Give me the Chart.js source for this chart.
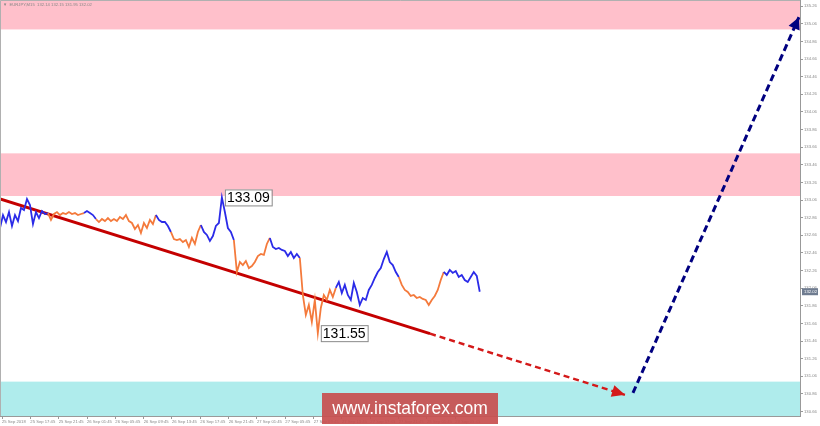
<!DOCTYPE html>
<html><head><meta charset="utf-8">
<script src="https://cdn.jsdelivr.net/npm/chart.js@4.4.1/dist/chart.umd.min.js"></script>
<style>html,body{margin:0;padding:0;background:#fff;overflow:hidden}canvas{display:block}</style>
</head><body>
<canvas id="c" width="820" height="426"></canvas>
<script>
// ---- data ----
const symbolTitle = "EURJPY,M15  132.14 132.15 131.95 132.02";
const tickLabels = ["25 Sep 2018","25 Sep 17:45","25 Sep 21:45","26 Sep 01:45","26 Sep 05:45","26 Sep 09:45","26 Sep 13:45","26 Sep 17:45","26 Sep 21:45","27 Sep 01:45","27 Sep 05:45","27 Sep 09:45","27 Sep 13:45","27 Sep 17:45","27 Sep 21:45","28 Sep 01:45","28 Sep 05:45"];
const tickMinutes = [0,240,480,720,960,1200,1440,1680,1920,2160,2400,2640,2880,3120,3360,3600,3840];
const priceTicks = [130.66,130.86,131.06,131.26,131.46,131.66,131.86,132.06,132.26,132.46,132.66,132.86,133.06,133.26,133.46,133.66,133.86,134.06,134.26,134.46,134.66,134.86,135.06,135.26];
const firstMinute = -17;
const stepMinutes = 25.4;
const closes = [132.743,132.890,132.811,132.924,132.766,132.890,132.822,132.970,132.947,133.072,
133.004,132.788,132.924,132.856,132.936,132.902,132.913,132.834,132.902,132.924,
132.890,132.913,132.902,132.924,132.902,132.913,132.890,132.902,132.913,132.936,
132.913,132.890,132.845,132.811,132.845,132.822,132.856,132.822,132.845,132.822,
132.868,132.845,132.890,132.822,132.800,132.732,132.777,132.687,132.800,132.743,
132.834,132.788,132.890,132.834,132.811,132.811,132.766,132.698,132.618,132.607,
132.618,132.584,132.607,132.528,132.630,132.562,132.698,132.777,132.698,132.664,
132.596,132.652,132.766,132.800,133.090,132.924,132.743,132.698,132.607,132.244,
132.357,132.323,132.369,132.289,132.312,132.357,132.425,132.448,132.437,132.562,
132.630,132.528,132.505,132.516,132.494,132.482,132.425,132.471,132.403,132.448,
132.403,131.983,131.757,131.870,131.677,131.927,131.550,131.836,131.983,131.927,
132.040,131.961,132.063,132.131,132.006,132.097,131.983,131.927,132.119,132.017,
131.870,131.949,131.927,132.040,132.097,132.176,132.244,132.289,132.391,132.471,
132.357,132.323,132.244,132.187,132.097,132.040,132.017,131.972,131.983,131.949,
131.961,131.938,131.927,131.870,131.927,131.972,132.040,132.153,132.244,132.210,
132.267,132.233,132.255,132.187,132.210,132.153,132.131,132.187,132.244,132.199,
132.020];
const waveStarts = [0,16,28,32,52,57,67,78,90,100,112,133,148];
const zoneLow  = [134.996, 133.106, 130.50];
const zoneHigh = [135.40, 133.590, 131.000];
const trendSolidX = [-17, 3626],  trendSolidY = [133.072, 131.544];
const trendDashX  = [3626, 5277], trendDashY  = [131.544, 130.850];
const forecastX   = [5345, 6751], forecastY   = [130.872, 135.135];

// ---- styles ----
const BLUE = '#2b2be8', ORANGE = '#f47a3c';
const zoneColors = ['#ffc0cb','#ffc0cb','#afecec'];
const FONT = '"Liberation Sans", Arial, sans-serif';

const pricePts = closes.map((v,i)=>({x:firstMinute+i*stepMinutes, y:v}));
const waveOf = i => { let w=0; for (let k=0;k<waveStarts.length;k++) if (i>=waveStarts[k]) w=k; return w; };
const pts = (xs,ys)=>xs.map((x,i)=>({x, y:ys[i]}));
const noPad = s => { s.paddingTop = 0; s.paddingBottom = 0; s.paddingLeft = 0; s.paddingRight = 0; };

const zonePlugin = {
  id:'zones',
  beforeDatasetsDraw(chart){
    const {ctx, chartArea:a, scales:{y}} = chart;
    ctx.save();
    ctx.beginPath(); ctx.rect(a.left,a.top,a.right-a.left,a.bottom-a.top); ctx.clip();
    zoneLow.forEach((lo,i)=>{
      const y1 = y.getPixelForValue(zoneHigh[i]), y2 = y.getPixelForValue(lo);
      ctx.fillStyle = zoneColors[i];
      ctx.fillRect(a.left, y1, a.right-a.left, y2-y1);
    });
    ctx.restore();
  }
};

function arrowHead(ctx, p0, p1, len, half, color){
  const ang = Math.atan2(p1.y-p0.y, p1.x-p0.x);
  ctx.save();
  ctx.translate(p1.x,p1.y); ctx.rotate(ang);
  ctx.fillStyle = color;
  ctx.beginPath(); ctx.moveTo(0,0); ctx.lineTo(-len,-half); ctx.lineTo(-len,half); ctx.closePath(); ctx.fill();
  ctx.restore();
}

const overlayPlugin = {
  id:'overlay',
  afterDatasetsDraw(chart){
    const {ctx, chartArea:a, scales:{x,y}} = chart;
    chart.data.datasets.forEach((ds,di)=>{
      if(!ds.arrow) return;
      const pts = chart.getDatasetMeta(di).data;
      const p0 = pts[pts.length-2], p1 = pts[pts.length-1];
      arrowHead(ctx,{x:p0.x,y:p0.y},{x:p1.x,y:p1.y},ds.arrow.len,ds.arrow.half,ds.borderColor);
    });
    let hi=0, lo=0;
    closes.forEach((v,i)=>{ if(v>closes[hi]) hi=i; if(v<closes[lo]) lo=i; });
    ctx.save();
    ctx.font = '14px '+FONT;
    ctx.textBaseline='middle';
    [hi,lo].forEach(i=>{
      const px = x.getPixelForValue(pricePts[i].x)+3, py = y.getPixelForValue(closes[i]);
      const txt = closes[i].toFixed(2);
      const w = ctx.measureText(txt).width + 4;
      ctx.fillStyle='#fff'; ctx.fillRect(px, py-8, w, 16);
      ctx.strokeStyle='#8a8a8a'; ctx.lineWidth=1; ctx.strokeRect(px+0.5, py-7.5, w, 16);
      ctx.fillStyle='#000'; ctx.fillText(txt, px+2, py+1);
    });
    ctx.restore();
  },
  afterDraw(chart){
    const {ctx, chartArea:a, scales:{y}} = chart;
    ctx.save();
    ctx.strokeStyle='#b0b0b0'; ctx.lineWidth=1;
    ctx.beginPath(); ctx.moveTo(a.left+0.5,a.bottom); ctx.lineTo(a.left+0.5,a.top+0.5); ctx.lineTo(a.right,a.top+0.5); ctx.stroke();
    ctx.fillStyle='#888'; ctx.font='4.2px '+FONT; ctx.textBaseline='middle';
    ctx.fillText('\u25BC  '+symbolTitle, 3, 5);
    const last = closes[closes.length-1];
    const py = y.getPixelForValue(last);
    ctx.fillStyle='#6f7c90'; ctx.fillRect(a.right+2, py-3.5, 16, 7);
    ctx.fillStyle='#fff'; ctx.font='4.3px '+FONT; ctx.fillText(last.toFixed(2), a.right+4, py+0.5);
    ctx.fillStyle='rgba(200,80,80,0.93)';
    ctx.fillRect(322, 393, 176, 31);
    ctx.fillStyle='#fff'; ctx.font='17.5px '+FONT; ctx.textAlign='center';
    ctx.fillText('www.instaforex.com', 410, 409);
    ctx.restore();
  }
};

new Chart(document.getElementById('c'), {
  type:'line',
  data:{datasets:[
    {data:pricePts, borderWidth:1.8, pointRadius:0, tension:0, borderColor:BLUE,
     segment:{borderColor:c=> waveOf(c.p0DataIndex)%2===0 ? BLUE : ORANGE}},
    {data:pts(trendSolidX,trendSolidY), borderColor:'#c40000', borderWidth:3, pointRadius:0},
    {data:pts(trendDashX,trendDashY), borderColor:'#d41a1a', borderWidth:2.5, borderDash:[6,4], pointRadius:0, arrow:{len:13,half:6}},
    {data:pts(forecastX,forecastY), borderColor:'#000080', borderWidth:3, borderDash:[7,4], pointRadius:0, arrow:{len:12,half:6}}
  ]},
  options:{
    responsive:false, animation:false,
    layout:{padding:0, autoPadding:false},
    plugins:{legend:{display:false}, tooltip:{enabled:false}},
    scales:{
      x:{type:'linear', min:-17, max:6760,
        afterBuildTicks:s=>{ s.ticks = tickMinutes.map(v=>({value:v})); },
        afterFit:s=>{ s.height = 10; noPad(s); },
        grid:{drawOnChartArea:false, tickLength:3, color:'#999'},
        border:{color:'#999'},
        ticks:{align:'start', maxRotation:0, autoSkip:false, color:'#888', padding:0,
          font:{size:4.2, family:FONT}, callback:(v,i)=>tickLabels[i]}
      },
      y:{type:'linear', position:'right', min:130.61, max:135.33,
        afterBuildTicks:s=>{ s.ticks = priceTicks.map(v=>({value:v})); },
        afterFit:s=>{ s.width = 20; noPad(s); },
        grid:{drawOnChartArea:false, tickLength:3, color:'#999'},
        border:{color:'#999'},
        ticks:{autoSkip:false, color:'#888', padding:1, font:{size:4.2, family:FONT},
          callback:v=>Number(v).toFixed(2)}
      }
    }
  },
  plugins:[zonePlugin, overlayPlugin]
});
</script>
</body></html>
